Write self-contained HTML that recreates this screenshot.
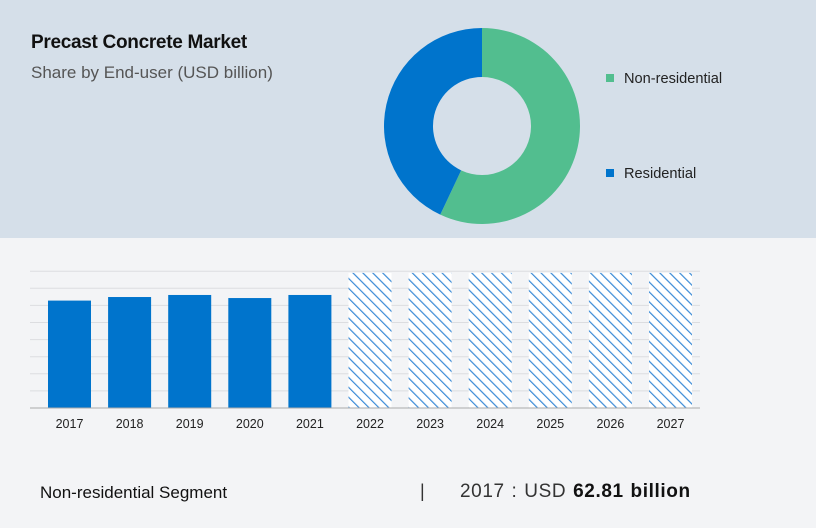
<!DOCTYPE html>
<html><head><meta charset="utf-8">
<style>
body{margin:0;width:816px;height:528px;overflow:hidden;background:#f3f4f6;font-family:"Liberation Sans",sans-serif;}
#top{position:absolute;left:0;top:0;width:816px;height:238px;background:#d5dfe9;}
#title{position:absolute;left:31px;top:32px;font-size:19px;font-weight:bold;color:#111;letter-spacing:-0.3px}
#sub{position:absolute;left:31px;top:63px;font-size:17px;color:#555}
.leg{position:absolute;font-size:14.6px;color:#222}
.sw{display:inline-block;width:8px;height:8px;margin-right:10px;vertical-align:1px}
#foot1{position:absolute;left:40px;top:483px;font-size:17px;color:#111}
#bar{position:absolute;left:420px;top:481px;font-size:18px;color:#333}
#foot2{position:absolute;left:460px;top:481px;font-size:19px;color:#333;letter-spacing:0.6px;word-spacing:1px}
</style></head><body>
<div id="top"></div>
<div id="title">Precast Concrete Market</div>
<div id="sub">Share by End-user (USD billion)</div>
<svg id="donut" width="816" height="528" style="position:absolute;left:0;top:0"></svg>
<div class="leg" style="left:606px;top:71px"><span class="sw" style="background:#52be8f"></span>Non-residential</div>
<div class="leg" style="left:606px;top:166px"><span class="sw" style="background:#0074cc"></span>Residential</div>
<svg id="bars" width="816" height="528" style="position:absolute;left:0;top:0">
<defs><pattern id="hatch" width="7" height="7" patternUnits="userSpaceOnUse" patternTransform="rotate(-45)"><rect width="7" height="7" fill="#fff"/><line x1="0" y1="0" x2="0" y2="7" stroke="#3a8ad6" stroke-width="2.4"/></pattern></defs>
</svg>
<div id="foot1">Non-residential Segment</div>
<div id="bar">|</div>
<div id="foot2">2017 : USD <b style="color:#111">62.81 billion</b></div>
<script>
const shareLabels=["Non-residential","Residential"];
const shareValues=[57,43];
const shareColors=["#52be8f","#0074cc"];
const years=["2017","2018","2019","2020","2021","2022","2023","2024","2025","2026","2027"];
const values=[62.81,64.9,66.1,64.3,66.1,79,79,79,79,79,79];
const forecast=[false,false,false,false,false,true,true,true,true,true,true];
const ns="http://www.w3.org/2000/svg";
function mk(p,t,a){const e=document.createElementNS(ns,t);for(const k in a)e.setAttribute(k,a[k]);p.appendChild(e);return e;}
const d=document.getElementById('donut');
const cx=482,cy=126,R=98,r=49;
const tot=shareValues.reduce((a,b)=>a+b,0);let a0=0;
shareValues.forEach((v,i)=>{
 const a1=a0+v/tot*2*Math.PI;
 const p=(ang,rad)=>[cx+rad*Math.sin(ang),cy-rad*Math.cos(ang)];
 const [x1,y1]=p(a0,R),[x2,y2]=p(a1,R),[x3,y3]=p(a1,r),[x4,y4]=p(a0,r);
 const lg=(a1-a0)>Math.PI?1:0;
 const s=mk(d,'path',{d:`M${x1},${y1}A${R},${R} 0 ${lg} 1 ${x2},${y2}L${x3},${y3}A${r},${r} 0 ${lg} 0 ${x4},${y4}Z`,fill:shareColors[i]});
 
 
 a0=a1;
});
const b=document.getElementById('bars');
const y0=408,ppu=1.71,x0=30,x1=700,pitch=60.1,bw=43,first=48;
const y=v=>y0-v*ppu;
for(let g=10;g<=80;g+=10){const l=mk(b,'line',{x1:x0,x2:x1,y1:y(g),y2:y(g),stroke:'#dcdde0','stroke-width':1});
 
 }
years.forEach((yr,i)=>{
 const x=first+i*pitch;
 const rc=mk(b,'rect',{x:x,y:y(values[i]),width:bw,height:values[i]*ppu,fill:forecast[i]?'url(#hatch)':'#0074cc'});
 
 
 const t=mk(b,'text',{x:x+bw/2,y:428,'text-anchor':'middle','font-size':12.5,fill:'#222','font-family':'Liberation Sans, sans-serif'});
 t.textContent=yr;
 
 
});
const ax=mk(b,'line',{x1:x0,x2:x1,y1:y0,y2:y0,stroke:'#aaa','stroke-width':1});


</script>
</body></html>
